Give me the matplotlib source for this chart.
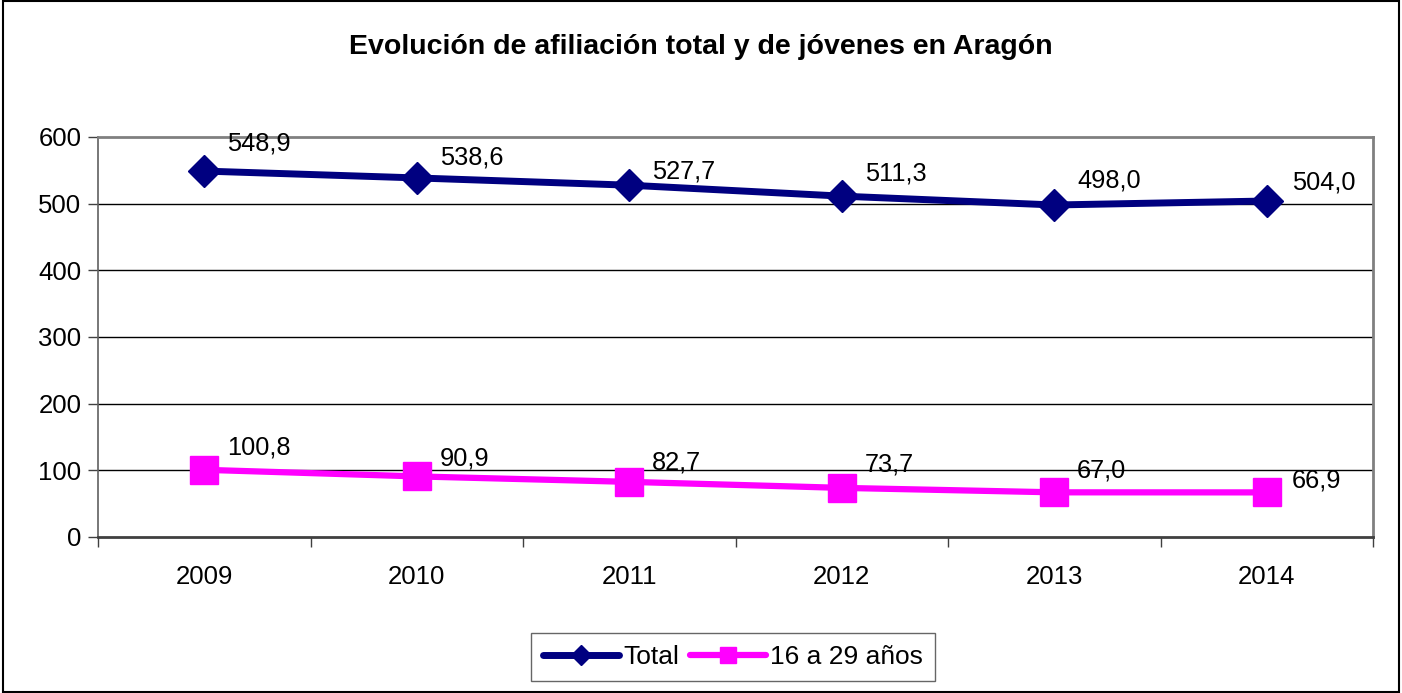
import numpy as np
import matplotlib.pyplot as plt
from matplotlib.patches import Rectangle

plt.rcParams['font.family'] = ['Liberation Sans', 'DejaVu Sans']

years = ['2009', '2010', '2011', '2012', '2013', '2014']
total = [548.9, 538.6, 527.7, 511.3, 498.0, 504.0]
jovenes = [100.8, 90.9, 82.7, 73.7, 67.0, 66.9]

# label offsets in pixels (dx, dy) as placed in the original
off_total = [(23, 21), (23, 13), (23, 7), (23, 16), (23, 17), (25, 11)]
off_jov = [(23, 15), (23, 11), (23, 12), (23, 16), (23, 15), (25, 5)]

fig = plt.figure(figsize=(14.02, 6.93), dpi=100)
ax = fig.add_axes([98/1402, 156/693, 1275/1402, 400/693])

x = np.arange(len(years))
ax.plot(x, total, color='#000080', lw=5, marker='D', ms=16.5, label='Total',
        solid_capstyle='round', zorder=3)
ax.plot(x, jovenes, color='#ff00ff', lw=4.5, marker='s', ms=20, label='16 a 29 años',
        solid_capstyle='round', zorder=3)

px = 72 / 100
for xi, v, (dx, dy) in zip(x, total, off_total):
    ax.annotate(f'{v:.1f}'.replace('.', ','), (xi, v), xytext=(dx*px, dy*px),
                textcoords='offset points', ha='left', va='baseline', fontsize=18.3)
for xi, v, (dx, dy) in zip(x, jovenes, off_jov):
    ax.annotate(f'{v:.1f}'.replace('.', ','), (xi, v), xytext=(dx*px, dy*px),
                textcoords='offset points', ha='left', va='baseline', fontsize=18.3)

ax.set_xlim(-0.5, 5.5)
ax.set_ylim(0, 600)
ax.set_yticks(range(0, 601, 100))
ax.set_xticks(x)
ax.set_xticklabels(years)
ax.set_xticks(np.arange(-0.5, 6, 1), minor=True)
ax.tick_params(axis='x', which='major', length=0, pad=20, labelsize=18.5)
ax.tick_params(axis='x', which='minor', length=7, width=1, color='#404040', direction='out')
ax.tick_params(axis='y', length=7, width=1, color='#404040', pad=5, labelsize=18.5)
for yv in range(100, 600, 100):
    ax.axhline(yv, color='black', lw=1, zorder=1)
ax.spines['top'].set_color('#808080')
ax.spines['right'].set_color('#808080')
ax.spines['left'].set_color('#606060')
ax.spines['bottom'].set_color('#404040')
ax.spines['top'].set_linewidth(2)
ax.spines['right'].set_linewidth(2)
ax.spines['left'].set_linewidth(1.2)
ax.spines['bottom'].set_linewidth(2)

fig.text(0.5, 1 - 47/693, 'Evolución de afiliación total y de jóvenes en Aragón',
         ha='center', va='center', fontsize=20.5, fontweight='bold')

leg = fig.legend(loc='center', bbox_to_anchor=(733/1402, 1 - 657/693), ncol=2,
                 fontsize=19, frameon=True, fancybox=False, edgecolor='#404040',
                 handlelength=2.9, handletextpad=0.15, columnspacing=0.4,
                 borderpad=0.45, borderaxespad=0, markerscale=0.6)
leg.get_frame().set_linewidth(1)

fig.patches.append(Rectangle((0.002, 0.002), 0.996, 0.996, transform=fig.transFigure,
                             fill=False, edgecolor='black', lw=1.5))

fig.savefig('out.png', dpi=100)
